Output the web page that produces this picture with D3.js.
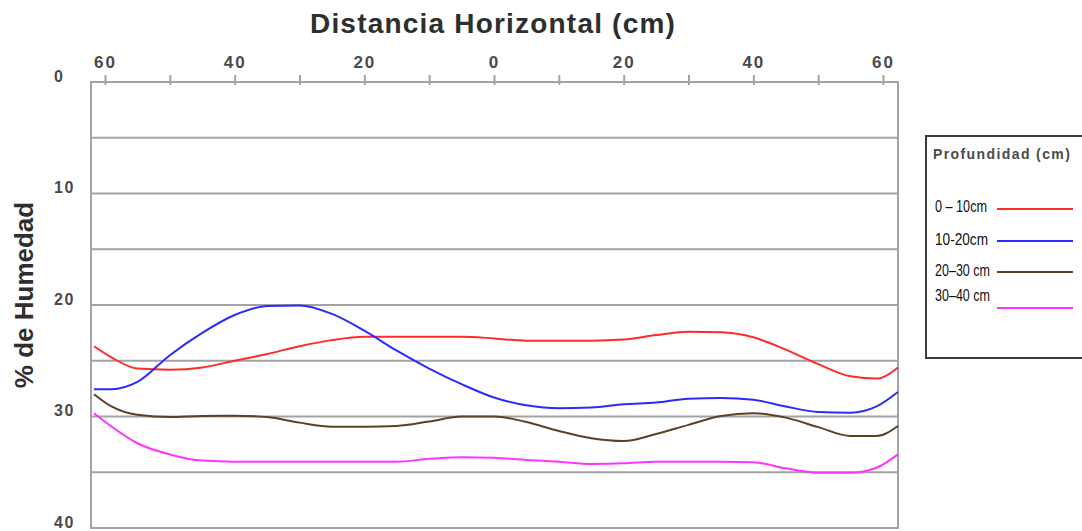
<!DOCTYPE html>
<html>
<head>
<meta charset="utf-8">
<script src="https://cdn.jsdelivr.net/npm/d3@7"></script>
<style>
  html, body { margin: 0; padding: 0; background: #fff; }
  svg { display: block; }
</style>
</head>
<body>
<svg id="chart" width="1082" height="531"></svg>
<script>
// ---- data ----
const distances = [-61.7, -59, -55, -50, -45, -40, -35, -30, -25, -20, -15, -10, -5, 0, 5, 10, 15, 20, 25, 30, 35, 40, 45, 50, 55, 59, 62.3];
const hum0_10  = [23.7, 24.7, 25.7, 25.8, 25.6, 25.0, 24.4, 23.7, 23.15, 22.85, 22.85, 22.85, 22.85, 23.0, 23.2, 23.2, 23.2, 23.1, 22.7, 22.4, 22.45, 22.9, 24.0, 25.3, 26.4, 26.6, 25.6];
const hum10_20 = [27.55, 27.55, 26.9, 24.5, 22.5, 20.9, 20.1, 20.05, 20.8, 22.3, 24.1, 25.7, 27.1, 28.3, 29.0, 29.27, 29.2, 28.9, 28.75, 28.4, 28.35, 28.5, 29.1, 29.6, 29.66, 29.1, 27.8];
const hum20_30 = [28.0, 29.1, 29.85, 30.05, 29.95, 29.93, 30.05, 30.55, 30.91, 30.92, 30.85, 30.45, 30.0, 30.0, 30.5, 31.3, 31.95, 32.2, 31.57, 30.75, 29.95, 29.7, 30.1, 30.95, 31.75, 31.75, 30.85];
const hum30_40 = [29.7, 30.9, 32.4, 33.4, 33.95, 34.05, 34.05, 34.05, 34.05, 34.05, 34.05, 33.8, 33.65, 33.7, 33.9, 34.05, 34.25, 34.2, 34.05, 34.05, 34.05, 34.1, 34.65, 35.05, 35.05, 34.6, 33.4];
const seriesNames = ["0 – 10cm", "10-20cm", "20–30 cm", "30–40 cm"];
const seriesValues = [hum0_10, hum10_20, hum20_30, hum30_40];
const xTicks = [-60, -50, -40, -30, -20, -10, 0, 10, 20, 30, 40, 50, 60];
const xLabelTicks = [-60, -40, -20, 0, 20, 40, 60];
const yGrid = [0, 5, 10, 15, 20, 25, 30, 35, 40];
const yLabelTicks = [0, 10, 20, 30, 40];
const titleText = "Distancia Horizontal (cm)";
const yTitleText = "% de Humedad";
const legendTitle = "Profundidad (cm)";

// ---- styles ----
const colors = ["#ff2b2b", "#2b2bff", "#5e4024", "#ff33ff"];
const gridColor = "#a3a3a3";
const labelColor = "#4a4a4a";

const svg = d3.select("#chart");
const x = d3.scaleLinear().domain([-62.16, 62.31]).range([91, 898]);
const y = d3.scaleLinear().domain([0, 40]).range([82, 528]);

// gridlines
svg.append("g").selectAll("line").data(yGrid).join("line")
  .attr("x1", x.range()[0]).attr("x2", x.range()[1])
  .attr("y1", d => y(d)).attr("y2", d => y(d))
  .attr("stroke", gridColor).attr("stroke-width", 2);

// frame
svg.append("rect")
  .attr("x", x.range()[0]).attr("y", y.range()[0])
  .attr("width", x.range()[1] - x.range()[0]).attr("height", y.range()[1] - y.range()[0])
  .attr("fill", "none").attr("stroke", gridColor).attr("stroke-width", 2);

// top axis
const xAxis = d3.axisTop(x).tickValues(xTicks)
  .tickFormat(d => xLabelTicks.includes(d) ? String(Math.abs(d)) : "")
  .tickSizeOuter(0);
const gx = svg.append("g").attr("transform", `translate(0,${y(0)})`).call(xAxis);
gx.select(".domain").remove();
gx.selectAll(".tick line").attr("y1", 3).attr("y2", -7).attr("stroke", gridColor).attr("stroke-width", 2);
gx.selectAll(".tick text")
  .attr("y", -14).attr("dy", 0)
  .attr("fill", labelColor)
  .style("font-family", "'Liberation Sans', Arial, sans-serif")
  .style("font-weight", "bold").style("font-size", "17px")
  .style("letter-spacing", "2px");

// left labels
svg.append("g").selectAll("text").data(yLabelTicks).join("text")
  .attr("x", 54).attr("y", d => y(d) - 4.5)
  .attr("dominant-baseline", "middle")
  .attr("fill", labelColor)
  .style("font-family", "'Liberation Sans', Arial, sans-serif")
  .style("font-weight", "bold").style("font-size", "16px")
  .style("letter-spacing", "1.5px")
  .text(d => d);

// title
svg.append("text")
  .attr("x", 493).attr("y", 33)
  .attr("text-anchor", "middle")
  .attr("fill", "#2e2e2e")
  .style("font-family", "'Liberation Sans', Arial, sans-serif")
  .style("font-weight", "bold").style("font-size", "28px")
  .style("letter-spacing", "1.2px")
  .text(titleText);

// y title
svg.append("text")
  .attr("transform", "translate(33,295) rotate(-90)")
  .attr("text-anchor", "middle")
  .attr("fill", "#2e2e2e")
  .style("font-family", "'Liberation Sans', Arial, sans-serif")
  .style("font-weight", "bold").style("font-size", "26px")
  .text(yTitleText);

// lines
const line = d3.line()
  .x((d, i) => x(distances[i]))
  .y(d => y(d))
  .curve(d3.curveMonotoneX);
svg.append("g").selectAll("path").data(seriesValues).join("path")
  .attr("d", d => line(d))
  .attr("fill", "none")
  .attr("stroke", (d, i) => colors[i])
  .attr("stroke-width", 2);

// legend
const lg = svg.append("g");
lg.append("rect")
  .attr("x", 926).attr("y", 136).attr("width", 170).attr("height", 222)
  .attr("fill", "#fff").attr("stroke", "#3a3a3a").attr("stroke-width", 2);
lg.append("text")
  .attr("x", 933).attr("y", 155).attr("dominant-baseline", "middle")
  .attr("fill", labelColor)
  .style("font-family", "'Liberation Sans', Arial, sans-serif")
  .style("font-weight", "bold").style("font-size", "14px")
  .style("letter-spacing", "1.4px")
  .text(legendTitle);
const textY = [208, 241, 272, 297];
const lineY = [209, 241, 272, 308];
const textW = [52, 53, 55, 55];
const items = lg.selectAll("g.item").data(seriesNames).join("g").attr("class", "item");
items.append("text")
  .attr("x", 935).attr("y", (d, i) => textY[i]).attr("dominant-baseline", "middle")
  .attr("fill", "#111")
  .attr("textLength", (d, i) => textW[i])
  .attr("lengthAdjust", "spacingAndGlyphs")
  .style("font-family", "'Liberation Sans', Arial, sans-serif")
  .style("font-size", "17px")
  .text(d => d);
items.append("line")
  .attr("x1", 997).attr("x2", 1073)
  .attr("y1", (d, i) => lineY[i]).attr("y2", (d, i) => lineY[i])
  .attr("stroke", (d, i) => colors[i]).attr("stroke-width", 2);
</script>
</body>
</html>
